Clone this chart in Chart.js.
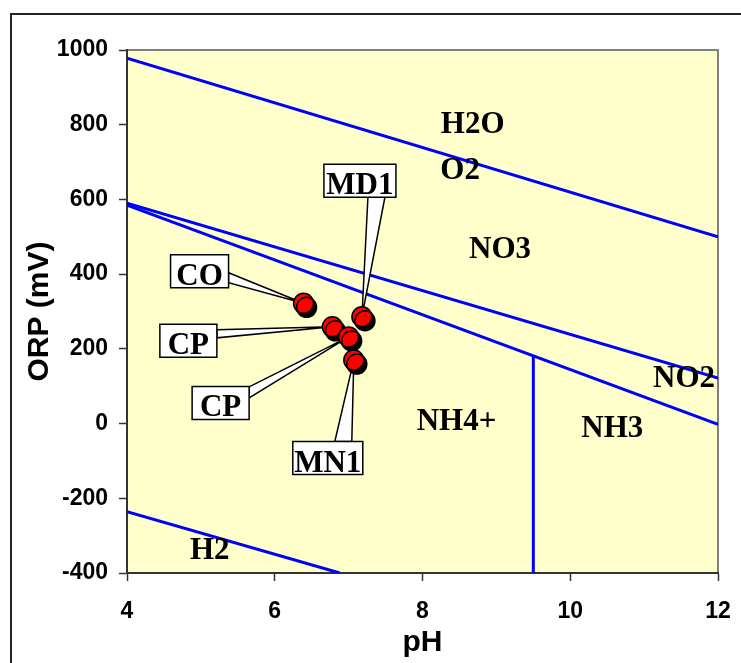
<!DOCTYPE html>
<html><head><meta charset="utf-8">
<script src="https://cdn.jsdelivr.net/npm/chart.js@4"></script>
<style>html,body{margin:0;padding:0;background:#fff;overflow:hidden}canvas{display:block}</style>
</head><body>
<canvas id="c" width="741" height="663"></canvas>
<script>
// ---- data ----
const sampleNames = ['CO', 'MD1', 'CP', 'CP', 'MN1'];
const samplePH = [6.39, 7.18, 6.78, 7.00, 7.07];
const sampleORP = [322, 286, 259, 232, 170];

const lineO2PH = [4, 12];     const lineO2ORP = [978, 500];
const lineNO3PH = [4, 12];    const lineNO3ORP = [590, 122];
const lineNH4PH = [4, 12];    const lineNH4ORP = [585, -2];
const lineNH3PH = [9.5, 9.5]; const lineNH3ORP = [181, -400];
const lineH2PH = [4, 6.88];   const lineH2ORP = [-236, -400];

const regionNames = ['H2O', 'O2', 'NO3', 'NO2', 'NH4+', 'NH3', 'H2'];
const regionPH = [8.68, 8.51, 9.05, 11.54, 8.46, 10.57, 5.12];
const regionORP = [799, 676, 465, 119, 3, -14, -341];

const xTickValues = [4, 6, 8, 10, 12];
const yTickValues = [-400, -200, 0, 200, 400, 600, 800, 1000];

// ---- styling ----
const SERIF = "'Times New Roman','Liberation Serif',serif";
const SANS = "Arial,'Liberation Sans',sans-serif";
const pts = (xs, ys) => xs.map((x, i) => ({x: x, y: ys[i]}));

// callout layout (pixel offsets of box centre from the point, box width, wedge base)
const calloutLayout = [
  {dx: -104, dy: -32, w: 58, side: 'right', b0: 1.5, b1: 11.5},
  {dx: -2, dy: -136, w: 72, side: 'bottom', b0: 8, b1: 25},
  {dx: -144, dy: 14, w: 57, side: 'right', b0: -11, b1: -3},
  {dx: -128, dy: 66, w: 57, side: 'right', b0: -16, b1: -5},
  {dx: -26, dy: 98, w: 70, side: 'top', b0: 7, b1: 24}
];
const BOX_H = 33;

const lineDs = (xs, ys) => ({
  data: pts(xs, ys), showLine: true, borderColor: '#0000FF', borderWidth: 3,
  pointRadius: 0, pointHoverRadius: 0, fill: false, tension: 0
});

const decoPlugin = {
  id: 'deco',
  beforeDraw(chart) {
    const {ctx, chartArea: a} = chart;
    ctx.save();
    ctx.fillStyle = '#FFFFCC';
    ctx.fillRect(a.left, a.top, a.right - a.left, a.bottom - a.top);
    ctx.strokeStyle = '#808080';
    ctx.lineWidth = 2;
    ctx.beginPath();
    ctx.moveTo(a.left, a.top); ctx.lineTo(a.right, a.top); ctx.lineTo(a.right, a.bottom);
    ctx.stroke();
    ctx.restore();
  },
  beforeDatasetDraw(chart, args) {
    if (args.index !== 0) return;
    const {ctx, chartArea: a} = chart;
    const xs = chart.scales.x, ys = chart.scales.y;
    // region labels
    ctx.save();
    ctx.beginPath(); ctx.rect(a.left, a.top, a.right - a.left, a.bottom - a.top); ctx.clip();
    ctx.fillStyle = '#000';
    ctx.font = 'bold 31px ' + SERIF;
    ctx.textAlign = 'center';
    ctx.textBaseline = 'middle';
    regionNames.forEach((t, i) => {
      ctx.fillText(t, xs.getPixelForValue(regionPH[i]), ys.getPixelForValue(regionORP[i]));
    });
    ctx.restore();
    // callouts
    ctx.save();
    ctx.lineWidth = 1.5;
    ctx.strokeStyle = '#000';
    ctx.lineJoin = 'miter';
    sampleNames.forEach((t, i) => {
      const L = calloutLayout[i];
      const px = xs.getPixelForValue(samplePH[i]);
      const py = ys.getPixelForValue(sampleORP[i]);
      const cx = px + L.dx, cy = py + L.dy;
      const l = cx - L.w / 2, r = cx + L.w / 2, tp = cy - BOX_H / 2, bt = cy + BOX_H / 2;
      let p0, p1;
      if (L.side === 'right') { p0 = [r, cy + L.b0]; p1 = [r, cy + L.b1]; }
      else if (L.side === 'bottom') { p0 = [cx + L.b0, bt]; p1 = [cx + L.b1, bt]; }
      else { p0 = [cx + L.b0, tp]; p1 = [cx + L.b1, tp]; }
      ctx.beginPath();
      ctx.moveTo(p0[0], p0[1]); ctx.lineTo(px, py); ctx.lineTo(p1[0], p1[1]);
      ctx.closePath();
      ctx.fillStyle = '#fff'; ctx.fill(); ctx.stroke();
      ctx.beginPath(); ctx.rect(l, tp, L.w, BOX_H);
      ctx.fill(); ctx.stroke();
      ctx.fillStyle = '#000';
      ctx.font = 'bold 31px ' + SERIF;
      ctx.textAlign = 'center';
      ctx.textBaseline = 'alphabetic';
      ctx.fillText(t, cx, bt - 3);
    });
    ctx.restore();
    // shadow for markers
    ctx.save();
    ctx.shadowColor = '#000';
    ctx.shadowOffsetX = 3;
    ctx.shadowOffsetY = 4;
    ctx.shadowBlur = 0;
  },
  afterDatasetDraw(chart, args) {
    if (args.index !== 0) return;
    chart.ctx.restore();
  },
  afterDraw(chart) {
    const ctx = chart.ctx;
    ctx.save();
    ctx.strokeStyle = '#222';
    ctx.lineWidth = 2;
    ctx.strokeRect(11, 14, 800, 800);
    ctx.restore();
  }
};

new Chart(document.getElementById('c'), {
  type: 'scatter',
  data: {
    datasets: [
      {
        data: pts(samplePH, sampleORP), showLine: false,
        pointRadius: 10, pointHoverRadius: 10,
        pointBackgroundColor: '#FF0000', pointBorderColor: '#000', pointBorderWidth: 1.5
      },
      lineDs(lineO2PH, lineO2ORP),
      lineDs(lineNO3PH, lineNO3ORP),
      lineDs(lineNH4PH, lineNH4ORP),
      lineDs(lineNH3PH, lineNH3ORP),
      lineDs(lineH2PH, lineH2ORP)
    ]
  },
  options: {
    responsive: false, animation: false, devicePixelRatio: 1,
    layout: {padding: {top: 50, right: 23, left: 0, bottom: 0}},
    plugins: {legend: {display: false}, tooltip: {enabled: false}},
    events: [],
    scales: {
      x: {
        type: 'linear', min: 4, max: 12,
        afterBuildTicks: s => { s.ticks = xTickValues.map(v => ({value: v})); },
        ticks: {font: {family: SANS, size: 23, weight: 'bold'}, color: '#000', padding: 17,
          callback: v => String(v)},
        grid: {drawOnChartArea: false, drawTicks: true, tickLength: 8, tickColor: '#333', tickWidth: 1.5},
        border: {color: '#333', width: 2},
        title: {display: true, text: 'pH', color: '#000',
          font: {family: SANS, size: 30, weight: 'bold'}, padding: {top: 0, bottom: 2}},
        afterFit: s => { s.height = 90; s.paddingLeft = 0; s.paddingRight = 0; }
      },
      y: {
        type: 'linear', min: -400, max: 1000,
        afterBuildTicks: s => { s.ticks = yTickValues.map(v => ({value: v})); },
        ticks: {font: {family: SANS, size: 23, weight: 'bold'}, color: '#000', padding: 11,
          callback: v => String(v)},
        grid: {drawOnChartArea: false, drawTicks: true, tickLength: 8, tickColor: '#333', tickWidth: 1.5},
        border: {color: '#333', width: 2},
        title: {display: true, text: 'ORP (mV)', color: '#000',
          font: {family: SANS, size: 30, weight: 'bold'}, padding: {top: 22, bottom: 0}},
        afterFit: s => { s.width = 127; s.paddingTop = 0; s.paddingBottom = 0; }
      }
    }
  },
  plugins: [decoPlugin]
});
</script>
</body></html>
